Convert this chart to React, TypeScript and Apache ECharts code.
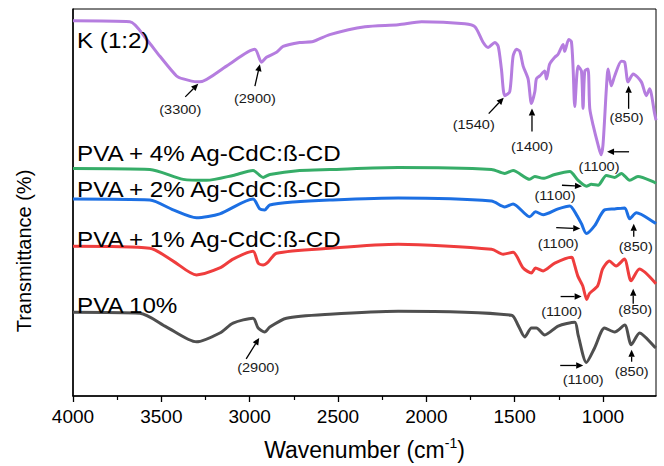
import React, { useEffect, useRef } from "react";
import * as echarts from "echarts";

// Wavenumber (cm-1) vs. offset transmittance (arbitrary units, stacked curves)
const kSpectrum: number[][] = [
  [4000, 381], [3678, 380], [3583, 362], [3508, 345], [3414, 325], [3376, 322], [3300, 319], [3282, 319],
  [3131, 335], [2971, 352], [2933, 339], [2905, 344], [2848, 349], [2811, 355], [2717, 359], [2641, 360],
  [2547, 367], [2347, 375], [2159, 377], [2027, 380], [1782, 378], [1725, 375], [1678, 359], [1650, 354],
  [1612, 359], [1593, 355], [1575, 332], [1556, 305], [1528, 309], [1509, 345], [1490, 352], [1471, 350],
  [1452, 335], [1424, 322], [1405, 297], [1386, 309], [1377, 322], [1358, 325], [1330, 330], [1320, 322],
  [1302, 337], [1273, 344], [1254, 347], [1226, 357], [1217, 350], [1194, 362], [1179, 360], [1169, 332],
  [1160, 294], [1141, 335], [1122, 330], [1113, 292], [1103, 330], [1085, 332], [1075, 292], [1056, 275],
  [1028, 255], [1011, 245], [1000, 255], [981, 312], [971, 332], [953, 315], [934, 325], [896, 340],
  [877, 339], [858, 319], [829, 327], [783, 319], [755, 305], [736, 312], [708, 287], [700, 280],
];
const pva4Spectrum: number[][] = [
  [4000, 231], [3565, 230], [3376, 220], [3244, 219], [3094, 224], [2981, 229], [2924, 222], [2886, 225],
  [2717, 229], [2547, 230], [2159, 232], [1631, 230], [1556, 226], [1509, 229], [1415, 220], [1386, 223],
  [1339, 221], [1273, 225], [1188, 228], [1141, 219], [1094, 213], [1066, 215], [1028, 214], [981, 224],
  [934, 222], [896, 226], [849, 219], [802, 223], [708, 217], [700, 216],
];
const pva2Spectrum: number[][] = [
  [4000, 200], [3565, 199], [3433, 189], [3301, 181], [3169, 185], [2981, 200], [2943, 190], [2915, 189],
  [2886, 194], [2754, 197], [2547, 199], [2159, 201], [1631, 198], [1556, 192], [1509, 195], [1415, 182],
  [1382, 187], [1339, 184], [1254, 190], [1188, 193], [1150, 184], [1122, 175], [1094, 165], [1047, 173],
  [991, 189], [934, 190], [877, 191], [849, 180], [811, 186], [708, 176], [700, 175],
];
const pva1Spectrum: number[][] = [
  [4000, 152], [3565, 150], [3433, 137], [3301, 123], [3169, 130], [3094, 139], [2981, 147], [2952, 135],
  [2924, 133], [2896, 136], [2848, 145], [2547, 150], [2159, 154], [1631, 149], [1565, 144], [1509, 146],
  [1452, 130], [1405, 125], [1382, 130], [1339, 127], [1273, 135], [1179, 141], [1172, 140], [1143, 122],
  [1115, 112], [1092, 98], [1077, 104], [1030, 112], [1002, 129], [964, 137], [926, 132], [879, 139],
  [841, 117], [794, 129], [700, 114],
];
const pvaSpectrum: number[][] = [
  [4000, 85], [3621, 84], [3470, 70], [3301, 55], [3169, 64], [3094, 74], [2981, 79], [2952, 69],
  [2915, 65], [2886, 70], [2792, 79], [2547, 83], [2159, 86], [1518, 82], [1481, 72], [1443, 60],
  [1405, 69], [1377, 69], [1330, 62], [1254, 71], [1160, 75], [1141, 62], [1094, 34], [1047, 49],
  [991, 69], [934, 65], [877, 72], [840, 52], [793, 64], [708, 50], [700, 49],
];

const seriesNames = ["K (1:2)", "PVA + 4% Ag-CdC:ß-CD", "PVA + 2% Ag-CdC:ß-CD", "PVA + 1% Ag-CdC:ß-CD", "PVA 10%"];
const seriesColors = ["#b57ddf", "#36ad68", "#1c6fe3", "#ef3d3d", "#4f4f4f"];
const majorTicks = [1000, 1500, 2000, 2500, 3000, 3500, 4000];
const minorTicks = [1250, 1750, 2250, 2750, 3250, 3750];

// Peak annotations: [arrow tip wavenumber, arrow tip value]
const annotationLabels = ["(3300)", "(2900)", "(1540)", "(1400)", "(850)", "(1100)", "(1100)", "(1100)", "(850)", "(1100)", "(850)", "(1100)", "(850)", "(2900)"];
const annotationTips: number[][] = [
  [3291, 317], [2942, 337], [1562, 303], [1402, 292], [855, 315], [977, 248], [1119, 213], [1129, 170],
  [826, 175], [1121, 101], [829, 109], [1112, 31], [838, 47], [2946, 59],
];
// arrow tail offset and label offset from the tip (px)
const annotationOffsets: number[][] = [
  [-13, 13, -18, 26], [-5, 22, -5, 35], [-15, 16, -30, 27], [0, 23, 0, 38], [0, 23, -2, 32], [22, 0, -8, 15],
  [-20, -1, -27, 10], [-24, -1, -22, 15], [0, 13, 2, 23], [-21, 0, -20, 15], [0, 15, 2, 21], [-23, 0, 0, 14],
  [0, 12, 0, 22], [-13, 21, -1, 30],
];
const seriesLabelY = [40, 153, 189, 239, 305];

const FONT = "'Liberation Sans', Arial, Helvetica, sans-serif";

export default function App() {
  const ref = useRef<HTMLDivElement>(null);
  useEffect(() => {
    if (!ref.current) return;
    const chart = echarts.init(ref.current, null, { renderer: "svg" });
    const spectra = [kSpectrum, pva4Spectrum, pva2Spectrum, pva1Spectrum, pvaSpectrum];
    const lineSeries = spectra.map((d, i) => ({
      name: seriesNames[i],
      type: "line",
      data: d,
      xAxisIndex: 0,
      yAxisIndex: 0,
      showSymbol: false,
      smooth: 0.25,
      lineStyle: { color: seriesColors[i], width: 3 },
      itemStyle: { color: seriesColors[i] },
      z: 2,
    }));
    const annData = annotationTips.map((t, i) => [t[0], t[1], ...annotationOffsets[i]]);
    const annSeries = {
      type: "custom",
      xAxisIndex: 0,
      yAxisIndex: 0,
      data: annData,
      encode: { x: 0, y: 1 },
      z: 5,
      renderItem: (params: any, api: any) => {
        const p = api.coord([api.value(0), api.value(1)]);
        const x = p[0], y = p[1];
        const tx = x + api.value(2), ty = y + api.value(3);
        const dx = x - tx, dy = y - ty;
        const len = Math.sqrt(dx * dx + dy * dy) || 1;
        const ux = dx / len, uy = dy / len;
        const hl = 7, hw = 3.2;
        const bx = x - ux * hl, by = y - uy * hl;
        return {
          type: "group",
          children: [
            { type: "line", shape: { x1: tx, y1: ty, x2: bx, y2: by }, style: { stroke: "#000", lineWidth: 1.3 } },
            {
              type: "polygon",
              shape: { points: [[x, y], [bx - uy * hw, by + ux * hw], [bx + uy * hw, by - ux * hw]] },
              style: { fill: "#000" },
            },
            {
              type: "text",
              x: x + api.value(4),
              y: y + api.value(5),
              scaleX: 1.12,
              style: {
                text: annotationLabels[params.dataIndex],
                fontSize: 13,
                fontFamily: FONT,
                fill: "#1a1a1a",
                align: "center",
                verticalAlign: "middle",
              },
            },
          ],
        };
      },
    };
    const graphics: any[] = seriesNames.map((n, i) => ({
      type: "text",
      x: 77,
      y: seriesLabelY[i],
      scaleX: 1.1,
      z: 10,
      style: { text: n, fontSize: 22, fontFamily: FONT, fill: "#000", align: "left", verticalAlign: "middle" },
    }));
    graphics.push({
      type: "text",
      x: 24,
      y: 251,
      rotation: Math.PI / 2,
      z: 10,
      style: { text: "Transmittance (%)", fontSize: 20, fontFamily: FONT, fill: "#000", align: "center", verticalAlign: "middle" },
    });
    chart.setOption({
      animation: false,
      backgroundColor: "#fff",
      grid: { left: 73, right: 8, top: 9, bottom: 64, show: true, borderColor: "#000", borderWidth: 1 },
      xAxis: [
        {
          type: "value",
          inverse: true,
          min: 700,
          max: 4000,
          position: "bottom",
          name: "{a|Wavenumber (cm}{s|-1}{a|)}",
          nameLocation: "middle",
          nameGap: 40,
          nameTextStyle: {
            rich: {
              a: { fontSize: 23, fontFamily: FONT, color: "#000", lineHeight: 27 },
              s: { fontSize: 14, fontFamily: FONT, color: "#000", verticalAlign: "top", lineHeight: 27 },
            },
          },
          axisLine: { show: true, lineStyle: { color: "#000", width: 1.5 } },
          axisTick: { show: true, inside: false, length: 6, customValues: majorTicks, lineStyle: { color: "#000", width: 1.3 } },
          axisLabel: {
            customValues: majorTicks,
            fontSize: 19,
            fontFamily: FONT,
            color: "#000",
            margin: 11,
            formatter: (v: number) => String(v),
          },
          splitLine: { show: false },
        },
        {
          type: "value",
          inverse: true,
          min: 700,
          max: 4000,
          position: "bottom",
          axisLine: { show: false },
          axisTick: { show: true, inside: false, length: 4, customValues: minorTicks, lineStyle: { color: "#000", width: 1.2 } },
          axisLabel: { show: false },
          splitLine: { show: false },
        },
      ],
      yAxis: {
        type: "value",
        min: 0,
        max: 393,
        axisLine: { show: true, lineStyle: { color: "#000", width: 1.5 } },
        axisTick: { show: false },
        axisLabel: { show: false },
        splitLine: { show: false },
      },
      series: [...lineSeries, annSeries],
      graphic: graphics,
    });
    return () => chart.dispose();
  }, []);
  return <div ref={ref} style={{ position: "absolute", left: 0, top: 0, width: 664, height: 466 }} />;
}
